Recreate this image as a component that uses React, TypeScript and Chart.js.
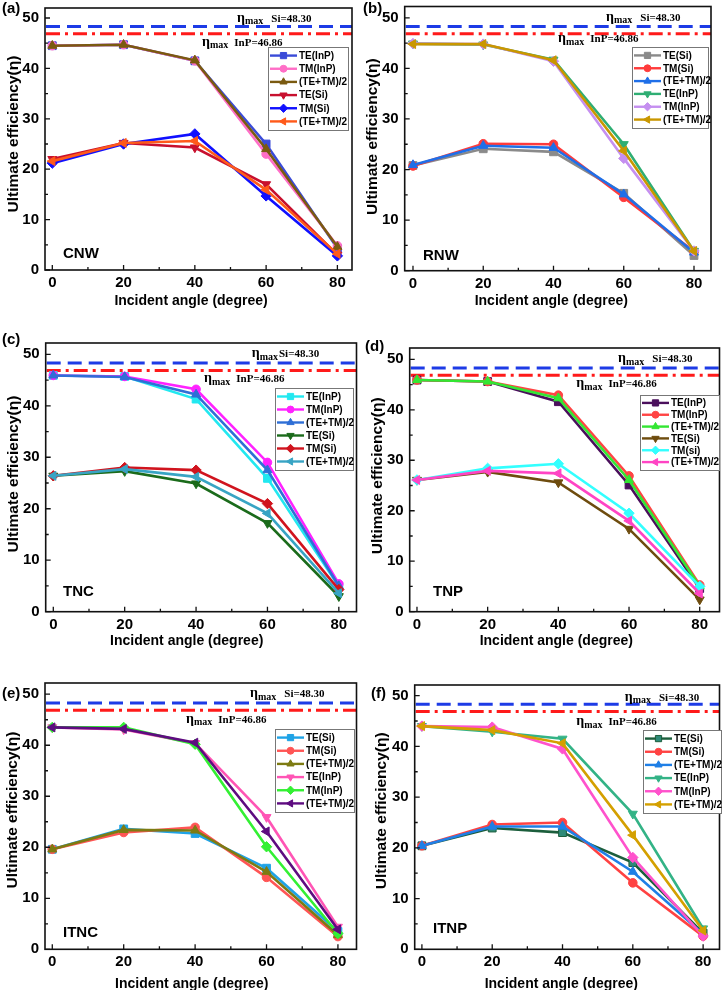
import React, { useEffect, useRef } from "react";
import { Chart, registerables } from "chart.js";
import { drawPoint } from "chart.js/helpers";

Chart.register(...registerables);

// ---------------- data ----------------
const angles = [0, 20, 40, 60, 80];
const xTickValues = [0, 20, 40, 60, 80];
const yTickValues = [0, 10, 20, 30, 40, 50];
const etaMaxSi = 48.3;
const etaMaxInP = 46.86;
const etaSiText = "Si=48.30";
const etaInPText = "InP=46.86";

// (a) CNW
const cnwTEInP = [44.5, 44.7, 41.5, 25.0, 4.3];
const cnwTMInP = [44.5, 44.7, 41.5, 23.0, 4.8];
const cnwAvgInP = [44.5, 44.7, 41.6, 24.0, 4.6];
const cnwTESi = [22.0, 25.2, 24.3, 17.0, 3.0];
const cnwTMSi = [21.2, 25.0, 27.0, 14.7, 2.8];
const cnwAvgSi = [21.6, 25.2, 25.6, 15.9, 3.2];

// (b) RNW
const rnwTESi = [20.8, 24.1, 23.5, 15.3, 3.0];
const rnwTMSi = [20.7, 25.1, 25.0, 14.5, 3.8];
const rnwAvgSi = [20.9, 24.7, 24.3, 15.1, 3.6];
const rnwTEInP = [44.9, 44.7, 41.7, 25.0, 3.9];
const rnwTMInP = [44.9, 44.8, 41.4, 22.2, 3.9];
const rnwAvgInP = [44.8, 44.8, 41.6, 23.7, 3.9];

// (c) TNC
const tncTEInP = [45.9, 45.7, 41.3, 25.9, 4.9];
const tncTMInP = [45.9, 45.7, 43.2, 29.0, 5.4];
const tncAvgInP = [45.9, 45.6, 42.2, 27.5, 5.0];
const tncTESi = [26.4, 27.3, 24.9, 17.2, 3.0];
const tncTMSi = [26.4, 28.0, 27.5, 21.0, 4.3];
const tncAvgSi = [26.4, 27.7, 26.2, 19.1, 3.6];

// (d) TNP
const tnpTEInP = [45.9, 45.6, 41.6, 25.1, 4.6];
const tnpTMInP = [45.9, 45.6, 42.9, 26.9, 5.3];
const tnpAvgInP = [45.9, 45.6, 42.3, 26.1, 5.0];
const tnpTESi = [26.1, 27.7, 25.6, 16.4, 2.4];
const tnpTMSi = [26.1, 28.4, 29.3, 19.5, 5.0];
const tnpAvgSi = [26.1, 27.9, 27.4, 18.0, 3.6];

// (e) ITNC
const itncTESi = [19.6, 23.6, 22.7, 15.9, 3.5];
const itncTMSi = [19.6, 22.9, 23.9, 14.1, 2.5];
const itncAvgSi = [19.6, 23.4, 23.3, 15.2, 2.8];
const itncTEInP = [43.5, 43.1, 40.4, 25.9, 4.4];
const itncTMInP = [43.5, 43.5, 40.2, 20.1, 3.1];
const itncAvgInP = [43.5, 43.2, 40.5, 23.1, 3.9];

// (f) ITNP
const itnpTESi = [20.4, 23.9, 23.0, 17.1, 3.2];
const itnpTMSi = [20.4, 24.6, 25.0, 13.1, 2.6];
const itnpAvgSi = [20.4, 24.2, 24.2, 15.3, 3.0];
const itnpTEInP = [44.0, 42.9, 41.5, 26.7, 4.1];
const itnpTMInP = [44.0, 43.8, 39.5, 18.1, 2.6];
const itnpAvgInP = [44.0, 43.2, 40.6, 22.5, 3.7];

// ---------------- styles ----------------
const CELL_W = 363;
const CELL_H = 330;
const SANS = '"Liberation Sans", Arial, sans-serif';
const SERIF = '"Liberation Serif", "Times New Roman", serif';

const markers = [
  { pointStyle: "rect", rotation: 0, radius: 5.5 },
  { pointStyle: "circle", rotation: 0, radius: 4.3 },
  { pointStyle: "triangle", rotation: 0, radius: 5.2 },
  { pointStyle: "triangle", rotation: 180, radius: 5.2 },
  { pointStyle: "rectRot", rotation: 0, radius: 5.2 },
  { pointStyle: "triangle", rotation: 270, radius: 5.2 },
];

const panels = [
  {
    tag: "(a)", name: "CNW", col: 0, row: 0,
    L: 45, R: 352, T: 8, B: 270, xMin: -2.05, xMax: 84.1, yMax: 51.98,
    legend: { x: 268, y: 47, w: 80, h: 83 },
    si: { x: 237, y: 21.7, gap: 8 }, inp: { x: 202, y: 45.7, gap: 6 },
    tagPos: { x: 2, y: 9 }, namePos: { x: 63, y: 254 },
    xTitle: { x: 191, y: 301 }, yTitle: { x: 13.3, y: 134 },
    series: [
      { label: "TE(InP)", data: cnwTEInP, color: "#3a4bd8" },
      { label: "TM(InP)", data: cnwTMInP, color: "#ff6ec7" },
      { label: "(TE+TM)/2", data: cnwAvgInP, color: "#7a5a10" },
      { label: "TE(Si)", data: cnwTESi, color: "#c8102e" },
      { label: "TM(Si)", data: cnwTMSi, color: "#1010ff" },
      { label: "(TE+TM)/2", data: cnwAvgSi, color: "#ff5a1a" },
    ],
  },
  {
    tag: "(b)", name: "RNW", col: 1, row: 0,
    L: 41.7, R: 348, T: 6, B: 270.7, xMin: -2.36, xMax: 84.84, yMax: 52.23,
    legend: { x: 269, y: 47, w: 76, h: 81 },
    si: { x: 243, y: 20.7, gap: 8 }, inp: { x: 195, y: 42, gap: 6 },
    tagPos: { x: 0, y: 9 }, namePos: { x: 60, y: 256 },
    xTitle: { x: 188.3, y: 301 }, yTitle: { x: 10, y: 136.7 },
    series: [
      { label: "TE(Si)", data: rnwTESi, color: "#8a8a8a" },
      { label: "TM(Si)", data: rnwTMSi, color: "#ff3b3b" },
      { label: "(TE+TM)/2", data: rnwAvgSi, color: "#1f6fe8" },
      { label: "TE(InP)", data: rnwTEInP, color: "#2fae73" },
      { label: "TM(InP)", data: rnwTMInP, color: "#c58ff0" },
      { label: "(TE+TM)/2", data: rnwAvgInP, color: "#c99700" },
    ],
  },
  {
    tag: "(c)", name: "TNC", col: 0, row: 1,
    L: 45.7, R: 357, T: 13, B: 281.7, xMin: -2.13, xMax: 84.95, yMax: 52.2,
    legend: { x: 275, y: 58, w: 78, h: 82 },
    si: { x: 251.7, y: 27.3, gap: 1 }, inp: { x: 204, y: 52, gap: 6 },
    tagPos: { x: 2, y: 10 }, namePos: { x: 63, y: 261.7 },
    xTitle: { x: 186.7, y: 311 }, yTitle: { x: 13.3, y: 144 },
    series: [
      { label: "TE(InP)", data: tncTEInP, color: "#22e8f0" },
      { label: "TM(InP)", data: tncTMInP, color: "#ff22ff" },
      { label: "(TE+TM)/2", data: tncAvgInP, color: "#2f6fd6" },
      { label: "TE(Si)", data: tncTESi, color: "#1b6b1b" },
      { label: "TM(Si)", data: tncTMSi, color: "#d0141e" },
      { label: "(TE+TM)/2", data: tncAvgSi, color: "#38a4c4" },
    ],
  },
  {
    tag: "(d)", name: "TNP", col: 1, row: 1,
    L: 46.7, R: 358, T: 18, B: 281.7, xMin: -2.06, xMax: 85.6, yMax: 52.24,
    legend: { x: 277, y: 65, w: 79, h: 75 },
    si: { x: 255, y: 32.3, gap: 8 }, inp: { x: 213.3, y: 57, gap: 6 },
    tagPos: { x: 2, y: 16.5 }, namePos: { x: 70, y: 261.7 },
    xTitle: { x: 193.3, y: 311 }, yTitle: { x: 15, y: 145.8 },
    series: [
      { label: "TE(InP)", data: tnpTEInP, color: "#4a0f5c" },
      { label: "TM(InP)", data: tnpTMInP, color: "#ff4444" },
      { label: "(TE+TM)/2", data: tnpAvgInP, color: "#33e633" },
      { label: "TE(Si)", data: tnpTESi, color: "#6e4c0e" },
      { label: "TM(si)", data: tnpTMSi, color: "#33ffff" },
      { label: "(TE+TM)/2", data: tnpAvgSi, color: "#ff44c4" },
    ],
  },
  {
    tag: "(e)", name: "ITNC", col: 0, row: 2,
    L: 45, R: 357, T: 23, B: 289.3, xMin: -2.04, xMax: 85.2, yMax: 52.2,
    legend: { x: 275, y: 69, w: 79, h: 83 },
    si: { x: 250, y: 37.3, gap: 8 }, inp: { x: 186, y: 62.7, gap: 6 },
    tagPos: { x: 2, y: 34 }, namePos: { x: 63, y: 273 },
    xTitle: { x: 191.7, y: 324 }, yTitle: { x: 12.7, y: 150 },
    series: [
      { label: "TE(Si)", data: itncTESi, color: "#1fa3e6" },
      { label: "TM(Si)", data: itncTMSi, color: "#ff5555" },
      { label: "(TE+TM)/2", data: itncAvgSi, color: "#7d7b12" },
      { label: "TE(InP)", data: itncTEInP, color: "#ff55b5" },
      { label: "TM(InP)", data: itncTMInP, color: "#33f033" },
      { label: "(TE+TM)/2", data: itncAvgInP, color: "#5e0c80" },
    ],
  },
  {
    tag: "(f)", name: "ITNP", col: 1, row: 2,
    L: 51.7, R: 360, T: 25, B: 289.3, xMin: -2.05, xMax: 84.66, yMax: 52.1,
    legend: { x: 280, y: 70, w: 78, h: 83 },
    si: { x: 261.7, y: 40.7, gap: 8 }, inp: { x: 213.3, y: 65, gap: 6 },
    tagPos: { x: 8, y: 34 }, namePos: { x: 70, y: 269.3 },
    xTitle: { x: 198.3, y: 324 }, yTitle: { x: 18.3, y: 150.8 },
    series: [
      { label: "TE(Si)", data: itnpTESi, color: "#1c5e3c", fill: "#2e8a78" },
      { label: "TM(Si)", data: itnpTMSi, color: "#ff4242" },
      { label: "(TE+TM)/2", data: itnpAvgSi, color: "#1f7fe6" },
      { label: "TE(InP)", data: itnpTEInP, color: "#33b386" },
      { label: "TM(InP)", data: itnpTMInP, color: "#ff52cc" },
      { label: "(TE+TM)/2", data: itnpAvgInP, color: "#d4a000" },
    ],
  },
];

function drawEta(ctx: CanvasRenderingContext2D, x: number, y: number, text: string, gap: number) {
  ctx.textAlign = "left";
  ctx.textBaseline = "alphabetic";
  ctx.fillStyle = "#000";
  ctx.font = `bold 14px ${SERIF}`;
  ctx.fillText("η", x, y);
  x += ctx.measureText("η").width;
  ctx.font = `bold 10px ${SERIF}`;
  ctx.fillText("max", x, y + 2.5);
  x += ctx.measureText("max").width + gap;
  ctx.font = `bold 11px ${SERIF}`;
  ctx.fillText(text, x, y);
}

function makeDecor(p: any) {
  return {
    id: "panelDecor",
    beforeDatasetsDraw(chart: any) {
      const { ctx, chartArea: a, scales } = chart;
      const y = scales.y;
      ctx.save();
      ctx.beginPath();
      ctx.rect(a.left, a.top, a.right - a.left, a.bottom - a.top);
      ctx.clip();
      ctx.lineWidth = 3;
      const ySi = y.getPixelForValue(etaMaxSi);
      ctx.strokeStyle = "#1d3be6";
      ctx.setLineDash([14, 7]);
      ctx.beginPath();
      ctx.moveTo(a.left + 1, ySi);
      ctx.lineTo(a.right, ySi);
      ctx.stroke();
      const yIn = y.getPixelForValue(etaMaxInP);
      ctx.strokeStyle = "#ff1a1a";
      ctx.setLineDash([14, 5, 3, 5]);
      ctx.beginPath();
      ctx.moveTo(a.left + 1, yIn);
      ctx.lineTo(a.right, yIn);
      ctx.stroke();
      ctx.restore();
    },
    afterDatasetsDraw(chart: any) {
      const { ctx, chartArea: a, scales } = chart;
      const sx = scales.x, sy = scales.y;
      ctx.save();
      ctx.setLineDash([]);
      ctx.strokeStyle = "#111";
      ctx.lineWidth = 1.6;
      ctx.strokeRect(a.left, a.top, a.right - a.left, a.bottom - a.top);
      ctx.lineWidth = 1.3;
      ctx.beginPath();
      for (let i = 0; i < xTickValues.length; i++) {
        const px = sx.getPixelForValue(xTickValues[i]);
        ctx.moveTo(px, a.bottom);
        ctx.lineTo(px, a.bottom - 5);
        if (i < xTickValues.length - 1) {
          const mx = sx.getPixelForValue((xTickValues[i] + xTickValues[i + 1]) / 2);
          ctx.moveTo(mx, a.bottom);
          ctx.lineTo(mx, a.bottom - 3);
        }
      }
      for (let i = 0; i < yTickValues.length; i++) {
        const py = sy.getPixelForValue(yTickValues[i]);
        ctx.moveTo(a.left, py);
        ctx.lineTo(a.left + 5, py);
        if (i < yTickValues.length - 1) {
          const my = sy.getPixelForValue((yTickValues[i] + yTickValues[i + 1]) / 2);
          ctx.moveTo(a.left, my);
          ctx.lineTo(a.left + 3, my);
        }
      }
      ctx.stroke();
      ctx.restore();
    },
    afterDraw(chart: any) {
      const { ctx } = chart;
      ctx.save();
      ctx.setLineDash([]);
      // legend
      const lg = p.legend;
      const dsets = chart.data.datasets;
      ctx.fillStyle = "#fff";
      ctx.fillRect(lg.x, lg.y, lg.w, lg.h);
      ctx.strokeStyle = "#777";
      ctx.lineWidth = 1;
      ctx.strokeRect(lg.x + 0.5, lg.y + 0.5, lg.w, lg.h);
      const rowH = (lg.h - 4) / dsets.length;
      dsets.forEach((ds: any, i: number) => {
        const cy = lg.y + 2 + rowH * (i + 0.5);
        ctx.strokeStyle = ds.borderColor;
        ctx.lineWidth = 2.4;
        ctx.beginPath();
        ctx.moveTo(lg.x + 2, cy);
        ctx.lineTo(lg.x + 29, cy);
        ctx.stroke();
        ctx.fillStyle = ds.pointBackgroundColor;
        ctx.strokeStyle = ds.pointBorderColor;
        ctx.lineWidth = 1;
        drawPoint(ctx, { pointStyle: ds.pointStyle, rotation: ds.pointRotation, radius: ds.pointRadius * 0.8, borderWidth: 1 }, lg.x + 15.5, cy);
        ctx.fillStyle = "#000";
        ctx.font = `bold 10px ${SANS}`;
        ctx.textAlign = "left";
        ctx.textBaseline = "middle";
        ctx.fillText(ds.label, lg.x + 31, cy + 0.5);
      });
      // eta annotations
      drawEta(ctx, p.si.x, p.si.y, etaSiText, p.si.gap);
      drawEta(ctx, p.inp.x, p.inp.y, etaInPText, p.inp.gap);
      // labels
      ctx.fillStyle = "#000";
      ctx.textBaseline = "middle";
      ctx.textAlign = "left";
      ctx.font = `bold 15px ${SANS}`;
      ctx.fillText(p.tag, p.tagPos.x, p.tagPos.y);
      ctx.fillText(p.name, p.namePos.x, p.namePos.y);
      ctx.textAlign = "center";
      ctx.font = `bold 14px ${SANS}`;
      ctx.fillText("Incident angle (degree)", p.xTitle.x, p.xTitle.y);
      ctx.save();
      ctx.translate(p.yTitle.x, p.yTitle.y);
      ctx.rotate(-Math.PI / 2);
      ctx.font = `bold 15.5px ${SANS}`;
      ctx.fillText("Ultimate efficiency(η)", 0, 0);
      ctx.restore();
      ctx.restore();
    },
  };
}

function Panel({ p }: { p: any }) {
  const ref = useRef<HTMLCanvasElement>(null);
  useEffect(() => {
    const canvas = ref.current;
    if (!canvas) return;
    const decor = makeDecor(p);
    const tickFont = { family: SANS, size: 15, weight: "bold" as const };
    const chart = new Chart(canvas, {
      type: "line",
      data: {
        datasets: p.series.map((s: any, i: number) => ({
          label: s.label,
          data: angles.map((a, k) => ({ x: a, y: s.data[k] })),
          borderColor: s.color,
          backgroundColor: s.color,
          pointBackgroundColor: s.fill || s.color,
          pointBorderColor: s.color,
          pointStyle: markers[i].pointStyle,
          pointRotation: markers[i].rotation,
          pointRadius: markers[i].radius,
          pointBorderWidth: 1,
          borderWidth: 2.6,
          tension: 0,
          fill: false,
          clip: false,
          order: -i,
        })),
      },
      options: {
        responsive: false,
        animation: false,
        devicePixelRatio: 1,
        events: [],
        layout: { padding: { left: 0, top: p.T, right: CELL_W - p.R, bottom: 0 } },
        plugins: { legend: { display: false }, tooltip: { enabled: false } },
        scales: {
          x: {
            type: "linear",
            min: p.xMin,
            max: p.xMax,
            grid: { display: false, drawTicks: false },
            border: { display: false },
            afterBuildTicks: (s: any) => {
              s.ticks = xTickValues.map((v) => ({ value: v }));
            },
            afterFit: (s: any) => {
              s.height = CELL_H - p.B;
              s.paddingLeft = 0;
              s.paddingRight = 0;
            },
            ticks: { padding: 4, color: "#000", font: tickFont, autoSkip: false, maxRotation: 0 },
          },
          y: {
            type: "linear",
            min: 0,
            max: p.yMax,
            grid: { display: false, drawTicks: false },
            border: { display: false },
            afterBuildTicks: (s: any) => {
              s.ticks = yTickValues.map((v) => ({ value: v }));
            },
            afterFit: (s: any) => {
              s.width = p.L;
              s.paddingTop = 0;
              s.paddingBottom = 0;
            },
            ticks: { padding: 6, color: "#000", font: tickFont, autoSkip: false },
          },
        },
      } as any,
      plugins: [decor],
    });
    return () => chart.destroy();
  }, [p]);
  return (
    <canvas
      ref={ref}
      width={CELL_W}
      height={CELL_H}
      style={{ position: "absolute", left: p.col * CELL_W, top: p.row * CELL_H, display: "block" }}
    />
  );
}

export default function App() {
  return (
    <div style={{ position: "absolute", left: 0, top: 0, width: 726, height: 990, background: "#fff", overflow: "hidden" }}>
      {panels.map((p) => (
        <Panel key={p.tag} p={p} />
      ))}
    </div>
  );
}
